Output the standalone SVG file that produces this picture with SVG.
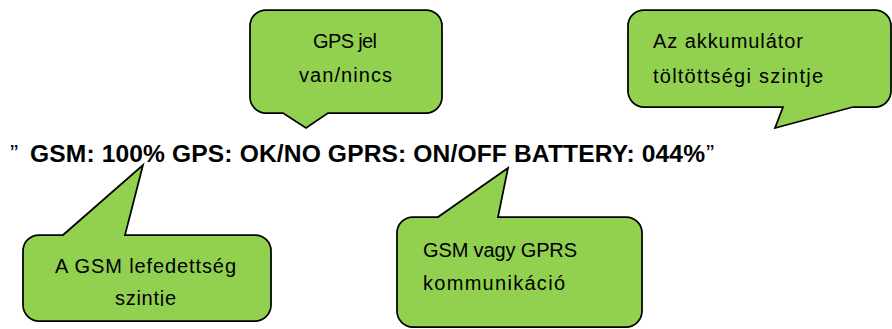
<svg xmlns="http://www.w3.org/2000/svg" width="892" height="329" viewBox="0 0 892 329">
<style>
.bubble{fill:#92D050;stroke:#000;stroke-width:1.75;stroke-linejoin:miter}
.lbl{font-family:"Liberation Sans",Arial,sans-serif;font-size:20px;fill:#000}
.mid{text-anchor:middle}
.main{font-family:"Liberation Sans",Arial,sans-serif;font-size:24.6px;fill:#000}
</style>
<defs>
<clipPath id="gsmclip"><rect x="23" y="235" width="248" height="71"/></clipPath>
</defs>
<rect width="892" height="329" fill="#fff"/>
<g id="connectors"></g>
<g id="main-text">
<text class="main" y="162"><tspan x="10">”</tspan><tspan x="30" font-weight="bold" textLength="675" lengthAdjust="spacing">GSM: 100% GPS: OK/NO GPRS: ON/OFF BATTERY: 044%</tspan><tspan x="706">”</tspan></text>
</g>
<g id="gps-bubble">
<path class="bubble" d="M266,10 H426 A16,16 0 0 1 442,26 V97 A16,16 0 0 1 426,113 H328 L306,128 L283,113 H266 A16,16 0 0 1 250,97 V26 A16,16 0 0 1 266,10 Z"/>
<text class="lbl mid" x="345" y="48" textLength="64" lengthAdjust="spacing">GPS jel</text>
<text class="lbl mid" x="345.5" y="82" textLength="93" lengthAdjust="spacing">van/nincs</text>
</g>
<g id="battery-bubble">
<path class="bubble" d="M644,10 H875 A16,16 0 0 1 891,26 V91 A16,16 0 0 1 875,107 H853 L775,128 L783,107 H644 A16,16 0 0 1 628,91 V26 A16,16 0 0 1 644,10 Z"/>
<text class="lbl" x="653" y="48" textLength="150" lengthAdjust="spacing">Az akkumulátor</text>
<text class="lbl" x="653" y="83" textLength="170" lengthAdjust="spacing">töltöttségi szintje</text>
</g>
<g id="gsm-bubble">
<path class="bubble" d="M39,235 H63 L143,165 L125,235 H255 A16,16 0 0 1 271,251 V305 A16,16 0 0 1 255,321 H39 A16,16 0 0 1 23,305 V251 A16,16 0 0 1 39,235 Z"/>
<g clip-path="url(#gsmclip)">
<text class="lbl mid" x="145.5" y="273" textLength="181" lengthAdjust="spacing">A GSM lefedettség</text>
<text class="lbl mid" x="145.5" y="305" textLength="61" lengthAdjust="spacing">szintje</text>
</g>
</g>
<g id="gprs-bubble">
<path class="bubble" d="M413,217 H438 L508,168 L498,217 H626 A16,16 0 0 1 642,233 V311 A16,16 0 0 1 626,327 H413 A16,16 0 0 1 397,311 V233 A16,16 0 0 1 413,217 Z"/>
<text class="lbl" x="423" y="257" textLength="154" lengthAdjust="spacing">GSM vagy GPRS</text>
<text class="lbl" x="423" y="290" textLength="142" lengthAdjust="spacing">kommunikáció</text>
</g>
</svg>
